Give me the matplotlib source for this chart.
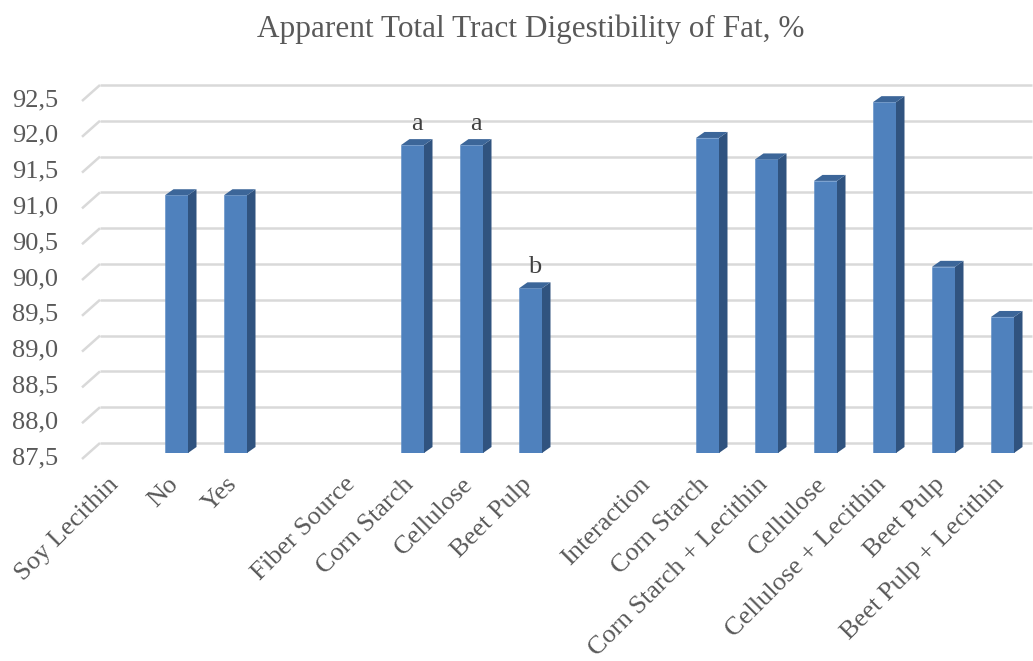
import matplotlib.pyplot as plt
from matplotlib.patches import Polygon

# Category slots along the x axis (blank entries are group headers without bars)
labels = ["Soy Lecithin", "No", "Yes", "",
          "Fiber Source", "Corn Starch", "Cellulose", "Beet Pulp", "",
          "Interaction", "Corn Starch", "Corn Starch + Lecithin", "Cellulose",
          "Cellulose + Lecithin", "Beet Pulp", "Beet Pulp + Lecithin"]
values = [None, 91.1, 91.1, None,
          None, 91.8, 91.8, 89.8, None,
          None, 91.9, 91.6, 91.3, 92.4, 90.1, 89.4]
letters = {5: "a", 6: "a", 7: "b"}

yticks = [87.5, 88.0, 88.5, 89.0, 89.5, 90.0, 90.5, 91.0, 91.5, 92.0, 92.5]
ymin, ymax = 87.5, 93.0

plt.rcParams["font.family"] = ["Liberation Serif", "DejaVu Serif"]
text_col = "#595959"
front_col = "#4f81bd"
side_col = "#30537f"
top_col = "#3c6699"
grid_col = "#d9d9d9"

W, H = 1033, 661
fig = plt.figure(figsize=(W / 100, H / 100), dpi=100)

# front plane of the bars, in pixels
px_left, px_bottom, px_width = 88, 453, 944
px_per_unit = 71.6
px_height = (ymax - ymin) * px_per_unit
ax = fig.add_axes([px_left / W, (H - px_bottom) / H, px_width / W, px_height / H])
ax.set_xlim(-0.5, len(labels) - 0.5)
ax.set_ylim(ymin, ymax)
ax.axis("off")

slot_px = px_width / len(labels)


def dx(px):
    return px / slot_px


def dy(px):
    return px / px_per_unit


# back wall gridlines with the short perspective segment on the left
x_wall = -0.5 + dx(100 - px_left)
x_front = -0.5 + dx(82 - px_left)
for v in yticks:
    yb = v + dy(10)
    yf = v - dy(6)
    ax.plot([x_front, x_wall], [yf, yb], color=grid_col, lw=1.8,
            clip_on=False, solid_capstyle="butt", zorder=1)
    ax.plot([x_wall, len(labels) - 0.5], [yb, yb], color=grid_col, lw=1.8,
            clip_on=False, solid_capstyle="butt", zorder=1)
    ax.text(-0.5 + dx(58 - px_left), v - dy(5), f"{v:.1f}".replace(".", ","),
            ha="right", va="center", fontsize=19, color=text_col)

# 3D style columns: front face, darker side and top
bw = 23 / slot_px
ox, oy = dx(8.5), dy(6)
for i, v in enumerate(values):
    if v is None:
        continue
    ax.bar(i, v - ymin, bottom=ymin, width=bw, color=front_col,
           edgecolor="#5b8cc6", linewidth=0.4, zorder=3)
    l, r = i - bw / 2, i + bw / 2
    side = Polygon([(r, ymin), (r, v), (r + ox, v + oy), (r + ox, ymin + oy),
                    (r, ymin)], closed=True, facecolor=side_col, edgecolor="none", zorder=3)
    top = Polygon([(l, v), (r, v), (r + ox, v + oy), (l + ox, v + oy)],
                  closed=True, facecolor=top_col, edgecolor="none", zorder=3)
    ax.add_patch(side)
    ax.add_patch(top)
    if i in letters:
        ax.annotate(letters[i], (i + ox / 2, v), xytext=(0, 11),
                    textcoords="offset points", ha="center", va="baseline",
                    fontsize=19, color="#404040")

# rotated category labels
for i, lab in enumerate(labels):
    if not lab:
        continue
    ax.annotate(lab, (i, ymin), xytext=(-2, -28), textcoords="offset pixels",
                rotation=45, rotation_mode="anchor", ha="right", va="center",
                fontsize=19, color=text_col, annotation_clip=False)

fig.text(531 / W, 1 - 29 / H, "Apparent Total Tract Digestibility of Fat, %",
         ha="center", va="center", fontsize=22.5, color=text_col)

fig.savefig("out.png", dpi=100)
